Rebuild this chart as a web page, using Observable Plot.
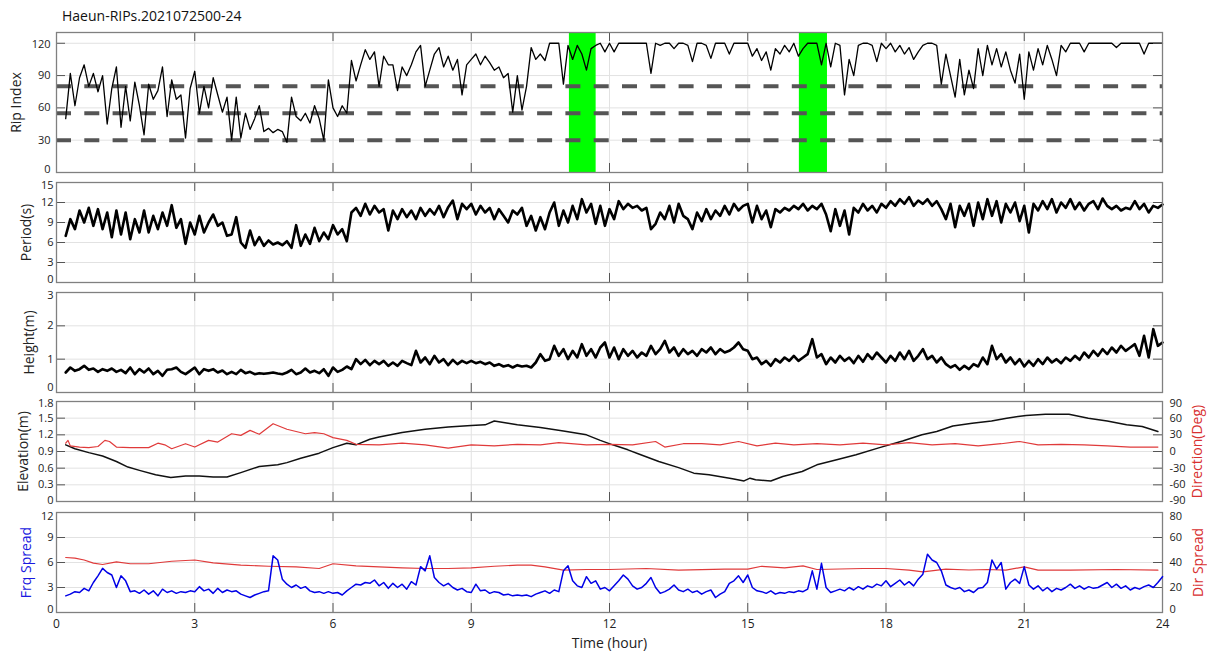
<!DOCTYPE html>
<html><head><meta charset="utf-8">
<script src="https://cdn.jsdelivr.net/npm/d3@7"></script>
<script src="https://cdn.jsdelivr.net/npm/@observablehq/plot@0.6"></script>
<style>
html,body{margin:0;padding:0;background:#fff;overflow:hidden}
#wrap{position:relative;width:1207px;height:654px;font-family:'Open Sans',sans-serif}
#wrap svg{position:absolute;left:0;max-width:none}
#title{position:absolute;left:62px;top:6px;font-size:14px;line-height:20px;color:#111}
</style></head><body><div id="wrap"><div id="title">Haeun-RIPs.2021072500-24</div></div>
<script>
// ---------- DATA ----------
const hourTicks = [0,3,6,9,12,15,18,21,24];
const ripTicks = [0,30,60,90,120];
const periodTicks = [0,3,6,9,12,15];
const heightTicks = [0,1,2,3];
const elevTicks = [0,0.3,0.6,0.9,1.2,1.5,1.8];
const dirTicks = [-90,-60,-30,0,30,60,90];
const frqTicks = [0,3,6,9,12];
const dirSpreadTicks = [0,20,40,60,80];
const ripThresholds = [30,55,80];
const greenBands = [{start:11.13,end:11.71},{start:16.12,end:16.73}];

// regular series: first sample at 0.2 h, one sample every 0.1 h
const seriesStart = 0.2, seriesStep = 0.1;
const ripIndex = [
 50,92,62,88,100,80,92,75,
 90,45,78,98,42,80,48,84,62,35,
 82,68,76,98,52,86,68,72,32,78,
 94,55,80,60,88,72,56,70,30,70,
 32,55,40,50,62,38,41,37,40,38,
 28,70,52,48,55,46,62,50,30,86,
 60,52,62,55,104,85,100,114,105,112,
 80,108,100,100,76,98,90,100,112,118,
 80,95,110,116,98,108,95,105,72,100,
 105,110,100,108,102,95,98,88,92,56,
 90,58,80,116,105,110,104,120,120,120,
 82,118,105,118,110,95,115,118,120,112,
 120,112,120,120,120,120,120,120,120,92,
 120,118,120,120,115,120,120,118,103,120,
 120,118,106,120,120,120,110,120,120,120,
 120,108,115,104,112,95,115,110,118,112,
 120,108,115,120,120,120,100,120,98,120,
 118,72,105,90,118,120,120,118,103,120,
 115,120,112,118,110,116,105,112,118,120,
 120,118,82,110,90,70,105,72,95,78,
 115,90,118,100,115,98,112,95,83,110,
 68,112,95,115,100,118,105,90,118,112,
 120,120,120,112,120,120,120,120,120,120,
 116,120,120,120,120,120,110,120,120,120,
 120];
const period = [
 7.0,9.5,8.0,10.8,9.0,11.2,8.5,11.0,
 8.0,10.5,6.8,10.8,7.2,10.5,6.5,9.5,7.5,10.8,
 7.5,10.0,8.0,10.5,8.5,11.6,8.2,9.5,5.8,9.0,
 7.2,10.0,7.5,9.0,10.2,8.5,9.0,7.0,7.2,9.8,
 6.0,5.2,7.8,5.6,6.8,5.5,6.3,5.7,6.0,5.6,
 6.2,5.2,8.6,5.5,7.2,5.8,8.2,6.2,7.5,6.5,
 8.6,7.2,8.0,6.2,10.5,11.2,10.0,11.8,10.2,11.5,
 10.5,11.0,7.8,10.8,9.5,11.0,9.8,10.8,9.5,11.2,
 10.0,11.0,10.2,11.5,9.8,11.3,12.3,9.5,11.8,11.0,
 11.8,10.2,11.5,10.5,11.2,9.5,11.0,10.0,9.0,10.8,
 10.2,11.2,8.5,10.0,7.8,9.8,8.0,10.5,12.0,8.5,
 10.8,9.0,11.5,9.5,12.5,10.5,11.8,8.8,11.5,8.5,
 11.0,9.5,12.2,11.0,11.8,11.2,11.5,10.8,11.2,8.0,
 8.8,10.5,9.5,11.5,9.0,11.8,10.0,9.5,8.0,10.5,
 9.2,11.0,9.5,10.8,10.0,11.5,10.2,11.8,10.8,11.5,
 11.8,9.0,11.5,9.5,10.8,8.3,11.0,10.5,11.2,10.8,
 11.5,11.0,11.8,10.8,11.5,11.0,11.8,10.2,7.7,11.0,
 8.5,10.8,7.2,11.2,10.5,11.8,10.8,11.5,10.5,11.8,
 11.2,12.2,11.5,12.5,11.8,12.8,11.5,12.3,11.8,12.5,
 11.5,12.2,11.0,9.5,11.8,8.3,11.5,10.0,11.8,8.5,
 12.0,9.5,12.5,10.0,12.2,9.0,11.8,10.5,12.0,9.2,
 11.5,7.5,11.8,10.8,12.2,11.0,12.5,10.5,12.0,11.2,
 12.5,11.0,12.0,10.8,11.8,12.2,11.0,12.6,11.5,11.0,
 11.5,10.8,11.2,11.0,12.2,11.0,11.8,10.5,11.5,11.2,
 11.7];
const waveHeight = [
 0.6,0.75,0.65,0.7,0.8,0.68,0.72,0.62,
 0.7,0.65,0.72,0.62,0.68,0.58,0.75,0.55,0.7,0.6,
 0.72,0.55,0.65,0.5,0.68,0.7,0.75,0.62,0.55,0.65,
 0.75,0.55,0.7,0.65,0.7,0.6,0.66,0.55,0.62,0.55,
 0.68,0.58,0.62,0.55,0.58,0.56,0.58,0.6,0.57,0.55,
 0.6,0.68,0.55,0.6,0.72,0.6,0.65,0.58,0.7,0.5,
 0.75,0.62,0.68,0.78,0.7,1.0,0.85,0.98,0.82,0.95,
 0.85,0.95,0.8,0.9,0.8,0.95,0.88,0.82,1.25,0.9,
 1.05,0.85,1.1,0.9,1.0,0.82,0.98,0.85,0.95,0.88,
 0.95,0.88,0.92,0.85,0.9,0.8,0.85,0.78,0.82,0.75,
 0.82,0.78,0.8,0.75,0.9,1.15,0.95,1.0,1.4,1.1,
 1.3,1.0,1.25,1.05,1.45,1.1,1.3,1.05,1.35,1.5,
 1.05,1.35,1.0,1.3,1.1,1.25,1.05,1.2,1.1,1.4,
 1.15,1.3,1.55,1.2,1.35,1.1,1.3,1.15,1.25,1.1,
 1.3,1.2,1.35,1.15,1.3,1.2,1.25,1.35,1.5,1.3,
 1.25,1.0,1.05,0.85,0.95,0.8,1.0,0.9,1.05,0.95,
 1.1,0.95,1.05,1.15,1.6,1.05,1.15,0.85,1.05,0.9,
 1.1,0.95,1.05,0.88,1.1,0.92,1.15,1.0,1.2,1.05,
 0.9,1.1,0.95,1.2,1.0,1.25,0.95,1.1,1.3,1.0,
 1.1,0.9,1.05,0.85,0.75,0.82,0.68,0.8,0.7,0.85,
 0.78,1.05,0.85,1.4,1.0,1.15,0.9,1.05,0.85,1.0,
 0.78,0.95,0.8,1.0,0.85,1.05,0.9,1.0,0.88,1.05,
 0.95,1.1,0.98,1.2,1.05,1.25,1.1,1.3,1.15,1.35,
 1.2,1.4,1.25,1.35,1.45,1.1,1.7,1.05,1.9,1.4,
 1.5];
const frqSpread = [
 2.0,2.2,2.5,2.4,2.9,2.6,3.6,4.4,
 5.3,4.8,4.5,3.0,4.4,3.8,2.5,2.6,2.3,2.7,
 2.2,2.6,2.0,2.8,2.4,2.6,2.3,2.5,2.4,2.6,
 2.5,3.1,2.6,2.8,2.3,2.9,2.4,2.7,2.5,2.6,
 2.2,2.0,1.8,2.1,2.3,2.5,2.6,6.8,6.3,4.0,
 3.4,3.0,3.3,2.9,3.1,2.6,2.4,2.5,2.3,2.5,
 2.3,2.4,2.1,2.6,3.0,3.4,3.3,3.6,3.5,3.9,
 3.2,3.6,2.9,3.5,3.0,3.4,2.8,3.7,3.3,5.5,
 5.0,6.8,4.2,3.6,3.2,3.5,3.0,2.7,2.9,2.5,
 2.4,3.4,2.6,2.7,2.3,2.5,2.4,2.1,2.2,2.0,
 2.1,2.0,2.1,1.9,2.2,2.4,2.6,2.3,2.7,2.5,
 5.0,5.6,3.8,3.2,3.0,4.3,3.5,3.8,2.8,3.0,
 2.6,3.2,3.8,4.5,4.0,3.2,2.8,3.0,3.5,4.2,
 3.0,2.3,2.5,2.8,3.3,2.7,2.5,2.8,2.4,2.6,
 2.2,2.5,2.7,1.8,2.2,2.5,3.5,3.8,4.4,3.6,
 4.5,3.0,2.6,2.5,2.3,2.6,2.2,2.4,2.3,2.5,
 2.4,2.6,2.5,2.8,5.0,2.8,5.9,3.0,2.4,2.6,
 2.8,2.6,3.0,2.7,3.1,2.8,3.2,3.0,3.4,3.2,
 3.8,3.1,3.5,3.9,3.3,3.7,3.2,4.0,4.6,7.0,
 6.3,6.0,5.0,3.3,3.0,2.8,3.0,2.5,2.7,2.4,
 2.9,3.0,3.6,6.3,5.2,6.0,2.8,3.6,4.0,3.5,
 5.5,3.3,2.8,3.2,2.6,3.0,2.5,2.9,2.7,3.0,
 3.4,2.9,3.2,2.8,3.1,2.9,3.0,3.3,3.6,3.0,
 3.4,2.9,3.2,2.7,3.0,2.8,3.1,3.3,3.0,3.6,
 4.3];

// irregular series: [hour, value]
const elevation = [[0.2,1.02],[0.4,0.95],[0.7,0.88],[1.0,0.82],[1.3,0.72],[1.55,0.62],[1.8,0.56],[2.15,0.48],[2.48,0.43],[2.8,0.46],[3.1,0.46],[3.4,0.44],[3.7,0.44],[4.0,0.52],[4.4,0.63],[4.8,0.66],[5.0,0.7],[5.3,0.78],[5.7,0.87],[6.0,0.97],[6.3,1.05],[6.5,1.02],[6.8,1.12],[7.0,1.16],[7.5,1.24],[8.0,1.3],[8.5,1.34],[9.0,1.37],[9.3,1.38],[9.5,1.45],[9.8,1.41],[10.0,1.38],[10.5,1.33],[11.0,1.27],[11.5,1.2],[11.8,1.1],[12.07,1.02],[12.4,0.93],[12.65,0.85],[13.07,0.72],[13.5,0.61],[13.83,0.51],[14.16,0.48],[14.67,0.41],[14.92,0.37],[15.05,0.42],[15.17,0.39],[15.5,0.37],[15.76,0.45],[16.18,0.54],[16.5,0.66],[16.93,0.75],[17.35,0.84],[17.86,0.97],[18.36,1.09],[18.78,1.2],[19.1,1.26],[19.45,1.36],[19.87,1.41],[20.29,1.45],[20.62,1.5],[21.04,1.55],[21.46,1.57],[21.97,1.57],[22.39,1.5],[22.8,1.45],[23.22,1.38],[23.56,1.35],[23.9,1.26]];
const direction = [[0.2,15],[0.25,20],[0.3,10],[0.5,8],[0.7,7],[0.9,9],[1.05,20],[1.15,18],[1.3,8],[1.6,7],[2.0,7],[2.2,15],[2.35,12],[2.5,5],[2.8,14],[3.0,8],[3.3,20],[3.5,17],[3.8,32],[4.0,29],[4.2,38],[4.4,31],[4.7,50],[5.0,40],[5.4,32],[5.6,34],[5.8,32],[6.0,25],[6.3,20],[6.5,13],[7.0,12],[7.5,15],[8.0,12],[8.5,6],[9.0,12],[9.5,10],[10.0,13],[10.5,12],[10.9,16],[11.5,12],[12.0,13],[12.5,12],[13.0,18],[13.2,8],[13.6,14],[14.0,14],[14.4,12],[14.8,18],[15.2,10],[15.6,15],[16.0,12],[16.5,14],[17.0,12],[17.5,15],[18.0,12],[18.5,16],[19.0,12],[19.5,14],[20.0,10],[20.5,14],[20.9,18],[21.3,12],[21.8,13],[22.3,12],[22.8,10],[23.3,8],[23.9,8]];
const dirSpread = [[0.2,44],[0.4,43.5],[0.6,42],[0.8,39.5],[1.0,38.4],[1.3,40.5],[1.6,39],[2.0,39],[2.5,41],[3.0,42],[3.4,39.7],[4.0,37.9],[4.6,37],[5.2,36.5],[5.7,35.2],[6.0,39],[6.5,37.3],[7.0,36.5],[7.5,35.7],[8.0,35.2],[8.5,35.2],[9.0,35.7],[9.5,37],[10.0,37.9],[10.3,37.9],[10.6,36.5],[11.0,33.9],[11.5,34.4],[12.0,34.4],[12.8,35.2],[13.5,33.9],[14.5,34.7],[15.0,34.7],[15.3,37],[15.8,35.7],[16.2,37.3],[16.5,34.4],[17.5,35.2],[18.0,35.2],[18.5,33.9],[18.8,32.5],[19.3,34.7],[19.8,34],[20.2,34.4],[20.6,33.9],[21.0,36.5],[21.3,33.9],[22.0,33.9],[23.0,34.4],[23.9,33.9]];

// ---------- DRAWING ----------
const wrap = document.getElementById("wrap");
const W = 1207, ML = 56, MR = 45, PW = W - ML - MR;
const GRID = "#e2e2e2", TICK = "#555", FRAME = "#808080";
const FS = 11;
const STYLE = {fontFamily: "'Open Sans', sans-serif", fontSize: FS + "px", color: "#222", background: "transparent", overflow: "visible"};
const fmt = d => String(d);
const regular = arr => arr.map((v, i) => ({t: seriesStart + i * seriesStep, v}));
const pairs = arr => arr.map(([t, v]) => ({t, v}));

function layer(frameTop, frameH, yDomain, marks, mb = 8) {
  const mt = 8;
  const svg = Plot.plot({
    width: W, height: frameH + mt + mb,
    marginLeft: ML, marginRight: MR, marginTop: mt, marginBottom: mb,
    x: {domain: [0, 24], axis: null},
    y: {domain: yDomain, axis: null},
    style: STYLE, marks
  });
  svg.style.top = (frameTop - mt) + "px";
  wrap.appendChild(svg);
}
function background(yTicks) {
  return [
    Plot.gridX(hourTicks, {stroke: GRID, strokeOpacity: 1}),
    Plot.gridY(yTicks, {stroke: GRID, strokeOpacity: 1})
  ];
}
// tick labels: the extreme ones are nudged inward so neighbouring panels' labels do not collide
function tickLabels(yTicks, anchor, pad, nudge) {
  const lo = yTicks[0], hi = yTicks[yTicks.length - 1];
  const mid = yTicks.slice(1, -1);
  const o = {anchor, tickSize: 0, tickPadding: pad, tickFormat: fmt, fontSize: FS, label: null};
  return [
    Plot.axisY(mid, o),
    Plot.axisY([lo], {...o, dy: nudge[0]}),
    Plot.axisY([hi], {...o, dy: nudge[1]})
  ];
}
function foreground(frameH, yTicks, label, labelDx, pad, nudge, labelColor = "#222") {
  return [
    Plot.gridY(yTicks, {stroke: TICK, strokeOpacity: 1, insetRight: PW - 9}),
    Plot.gridY(yTicks, {stroke: TICK, strokeOpacity: 1, insetLeft: PW - 9}),
    Plot.gridX(hourTicks, {stroke: TICK, strokeOpacity: 1, insetBottom: frameH - 9}),
    Plot.gridX(hourTicks, {stroke: TICK, strokeOpacity: 1, insetTop: frameH - 9}),
    ...tickLabels(yTicks, "left", pad, nudge),
    Plot.frame({stroke: FRAME, strokeWidth: 1.3}),
    Plot.text([label], {frameAnchor: "left", textAnchor: "middle", dx: labelDx, rotate: -90, fontSize: 14, fill: labelColor})
  ];
}
function rightAxis(yTicks, label, color, labelDx, nudge) {
  return [
    ...tickLabels(yTicks, "right", 7, nudge),
    Plot.text([label], {frameAnchor: "right", textAnchor: "middle", dx: labelDx, rotate: -90, fontSize: 14, fill: color})
  ];
}

// Panel 1: Rip Index
layer(32, 140, [0, 130], [
  ...background(ripTicks),
  Plot.rect(greenBands, {x1: "start", x2: "end", fill: "#00ff00"}),
  Plot.ruleY(ripThresholds, {stroke: "#555", strokeWidth: 4, strokeDasharray: "15,13.3"}),
  Plot.line(regular(ripIndex), {x: "t", y: "v", stroke: "#000", strokeWidth: 1.3}),
  ...foreground(140, ripTicks, "Rip Index", -40, 6, [-3, 1])
]);

// Panel 2: Period
layer(182, 100, [0, 15], [
  ...background(periodTicks),
  Plot.line(regular(period), {x: "t", y: "v", stroke: "#000", strokeWidth: 2.6}),
  ...foreground(100, periodTicks, "Period(s)", -30, 3, [-3, 2.5])
]);

// Panel 3: Height
layer(292, 100, [0, 3], [
  ...background(heightTicks),
  Plot.line(regular(waveHeight), {x: "t", y: "v", stroke: "#000", strokeWidth: 2.6}),
  ...foreground(100, heightTicks, "Height(m)", -27, 3, [-5, 2.5])
]);

// Panel 4: Elevation (left) + Direction (right)
layer(401, 100, [0, 1.8], [
  ...background(elevTicks),
  Plot.line(pairs(elevation), {x: "t", y: "v", stroke: "#111", strokeWidth: 1.5}),
  ...foreground(100, elevTicks, "Elevation(m)", -33, 3, [-1.5, 1.5])
]);
layer(401, 100, [-90, 90], [
  Plot.line(pairs(direction), {x: "t", y: "v", stroke: "#e03a3a", strokeWidth: 1.2}),
  ...rightAxis(dirTicks, "Direction(Deg)", "#d83030", 35, [-1.5, 1.5])
]);

// Panel 5: Frq Spread (left) + Dir Spread (right)
layer(512, 100, [0, 12], [
  ...background(frqTicks),
  ...foreground(100, frqTicks, "Frq Spread", -30, 3, [-3, 4], "#1a1ae0"),
  Plot.axisX(hourTicks, {anchor: "bottom", tickSize: 0, tickPadding: 7, tickFormat: fmt, fontSize: 12, label: null}),
  Plot.text(["Time (hour)"], {frameAnchor: "bottom", dy: 35, fontSize: 14})
], 42);
layer(512, 100, [0, 80], [
  Plot.line(pairs(dirSpread), {x: "t", y: "v", stroke: "#e03a3a", strokeWidth: 1.2}),
  ...rightAxis(dirSpreadTicks, "Dir Spread", "#d83030", 36, [-3, 4])
], 42);
layer(512, 100, [0, 12], [
  Plot.line(regular(frqSpread), {x: "t", y: "v", stroke: "#0000e6", strokeWidth: 1.5})
], 42);
</script></body></html>
